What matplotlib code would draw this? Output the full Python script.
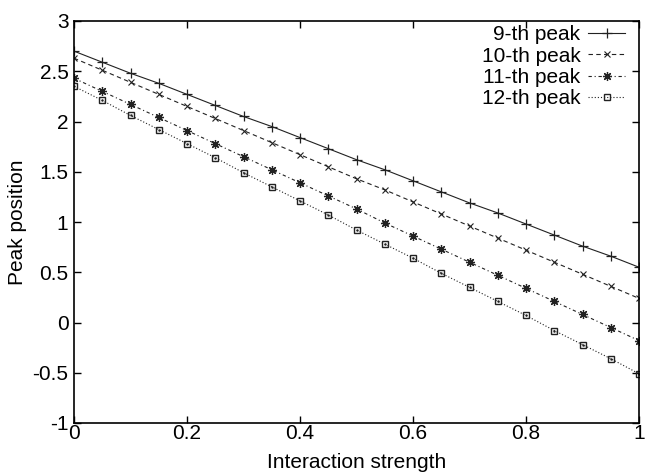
import matplotlib
matplotlib.use("Agg")
import matplotlib.pyplot as plt

plt.rcParams['font.family'] = ['Liberation Sans', 'DejaVu Sans']

strength = [0.00, 0.05, 0.10, 0.15, 0.20, 0.25, 0.30, 0.35, 0.40, 0.45, 0.50,
            0.55, 0.60, 0.65, 0.70, 0.75, 0.80, 0.85, 0.90, 0.95, 1.00]
peak9 = [2.70, 2.59, 2.48, 2.38, 2.27, 2.16, 2.05, 1.95, 1.84, 1.73, 1.62,
         1.52, 1.41, 1.30, 1.19, 1.09, 0.98, 0.87, 0.76, 0.66, 0.55]
peak10 = [2.63, 2.51, 2.39, 2.27, 2.15, 2.03, 1.91, 1.79, 1.67, 1.55, 1.43,
          1.32, 1.20, 1.08, 0.96, 0.84, 0.72, 0.60, 0.48, 0.36, 0.24]
peak11 = [2.43, 2.30, 2.17, 2.04, 1.91, 1.78, 1.65, 1.52, 1.39, 1.26, 1.13,
          0.99, 0.86, 0.73, 0.60, 0.47, 0.34, 0.21, 0.08, -0.05, -0.18]
peak12 = [2.35, 2.21, 2.06, 1.92, 1.78, 1.64, 1.49, 1.35, 1.21, 1.07, 0.92,
          0.78, 0.64, 0.49, 0.35, 0.21, 0.07, -0.08, -0.22, -0.36, -0.51]
labels = ["9-th peak", "10-th peak", "11-th peak", "12-th peak"]
xticks = [0, 0.2, 0.4, 0.6, 0.8, 1]
xticklabels = ["0", "0.2", "0.4", "0.6", "0.8", "1"]
yticks = [-1, -0.5, 0, 0.5, 1, 1.5, 2, 2.5, 3]
yticklabels = ["-1", "-0.5", "0", "0.5", "1", "1.5", "2", "2.5", "3"]

fig = plt.figure(figsize=(6.45, 4.74), dpi=100)
ax = fig.add_axes([74 / 645, 51 / 474, 565 / 645, 402 / 474])

lw = 0.8
c = '#222222'
ax.plot(strength, peak9, color=c, lw=lw, ls='-', marker='+', ms=6.5, mew=0.9,
        label=labels[0])
ax.plot(strength, peak10, color=c, lw=lw, ls=(0, (4, 3)), marker='x', ms=5,
        mew=0.8, label=labels[1])
ax.plot(strength, peak11, color=c, lw=lw, ls=(0, (3, 2.5, 1, 2.5)),
        marker=(8, 2, 0), ms=6.5, mew=0.9, label=labels[2])
ax.plot(strength, peak12, color=c, lw=lw, ls=(0, (1, 1.8)), marker='s', ms=5,
        mew=1.0, mfc='none', label=labels[3])
ax.plot(strength, peak12, color=c, lw=0, marker='.', ms=1.5)

ax.set_xlim(0, 1)
ax.set_ylim(-1, 3)
ax.set_xticks(xticks)
ax.set_xticklabels(xticklabels)
ax.set_yticks(yticks)
ax.set_yticklabels(yticklabels)
ax.tick_params(direction='in', top=True, right=True, length=5, width=1,
               labelsize=15)
ax.tick_params(axis='x', pad=1)
ax.tick_params(axis='y', pad=4)
for s in ax.spines.values():
    s.set_linewidth(1.2)

ax.set_xlabel("Interaction strength", fontsize=15, labelpad=7)
ax.set_ylabel("Peak position", fontsize=15, labelpad=4)

leg = ax.legend(loc='upper right',
                bbox_to_anchor=((625 - 74) / 565, 1.0 - 4 / 402),
                frameon=False, markerfirst=False, numpoints=1, fontsize=15,
                handlelength=1.76, handletextpad=0.38, labelspacing=0.12,
                borderaxespad=0, borderpad=0)

fig.savefig("out.png", dpi=100)
